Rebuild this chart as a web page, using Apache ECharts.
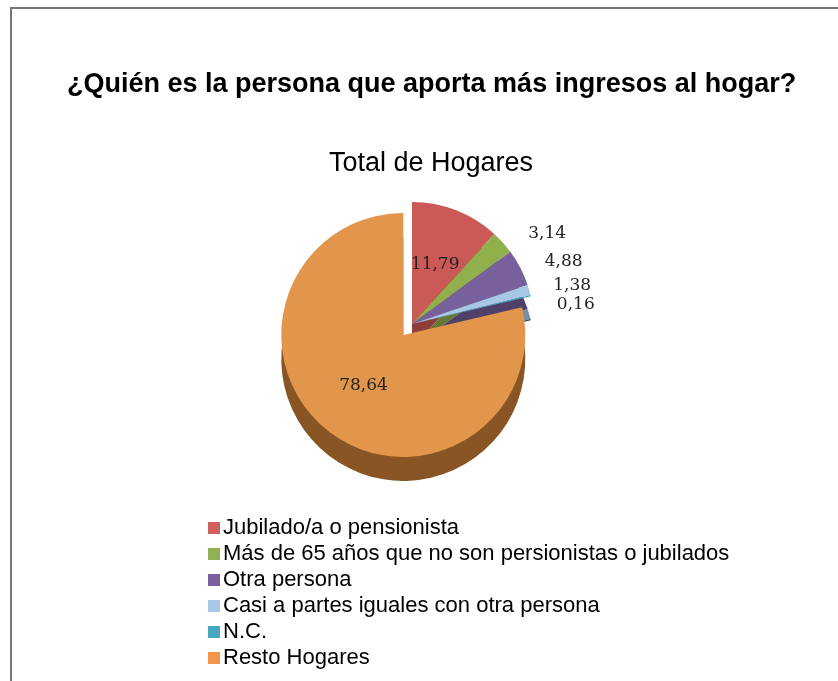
<!DOCTYPE html>
<html>
<head>
<meta charset="utf-8">
<script src="https://cdn.jsdelivr.net/npm/echarts@6/dist/echarts.min.js"></script>
<style>
    html, body { margin: 0; padding: 0; background: #fff; }
    #frame { position: absolute; left: 10px; top: 7px; width: 840px; height: 690px;
             border-top: 2px solid #777; border-left: 2px solid #777; }
    #container { position: absolute; left: 0; top: 0; width: 838px; height: 681px; }
</style>
</head>
<body>
<div id="frame"></div>
<div id="container"></div>
<script>
var categories = [
    'Jubilado/a o pensionista',
    'Más de 65 años que no son persionistas o jubilados',
    'Otra persona',
    'Casi a partes iguales con otra persona',
    'N.C.',
    'Resto Hogares'
];
var values = [11.79, 3.14, 4.88, 1.38, 0.16, 78.64];
var colors = ['#cb5a56', '#8fb04b', '#77609b', '#a8c6e6', '#44a8c1', '#e2964c'];
var sideColors = ['#8e3d3a', '#627a33', '#4f3f69', '#7890aa', '#1e4f5e', '#8a5524'];
var legendColors = ['#d0605e', '#92b152', '#7a5e9e', '#a8c6e6', '#43a8c0', '#f0954a'];

initChart();

function initChart() {
    var dom = document.getElementById('container');
    var myChart = echarts.init(dom, null, { renderer: 'canvas' });

    var top = [], side = [];
    for (var i = 0; i < values.length; i++) {
        var inside = (i == 0 || i == 5);
        top.push({
            name: categories[i],
            value: values[i],
            selected: i == 5,
            itemStyle: { color: colors[i] },
            label: inside ? { position: 'inside' } : {}
        });
        side.push({
            name: categories[i],
            value: values[i],
            selected: i == 5,
            itemStyle: { color: sideColors[i] }
        });
    }

    var option = {
        animation: false,
        title: [{
            text: '¿Quién es la persona que aporta más ingresos al hogar?',
            left: 62,
            top: 66,
            textStyle: { fontFamily: 'Liberation Sans', fontSize: 27, fontWeight: 'bold', color: '#000' }
        }, {
            text: 'Total de Hogares',
            left: 324,
            top: 145,
            textStyle: { fontFamily: 'Liberation Sans', fontSize: 27, fontWeight: 'normal', color: '#000' }
        }],
        legend: {
            orient: 'vertical',
            left: 203,
            top: 512,
            itemWidth: 12,
            itemHeight: 12,
            itemGap: 4,
            icon: 'rect',
            selectedMode: false,
            textStyle: { fontFamily: 'Liberation Sans', fontSize: 22, color: '#000', padding: [0, 0, 0, -2] },
            data: categories.map(function (c, i) {
                return { name: c, itemStyle: { color: legendColors[i] } };
            })
        },
        series: [{
            name: 'side',
            type: 'pie',
            z: 1,
            silent: true,
            center: [412, 348],
            radius: 122,
            startAngle: 90,
            selectedMode: 'multiple',
            selectedOffset: 14,
            label: { show: false },
            labelLine: { show: false },
            data: side
        }, {
            name: 'Total de Hogares',
            type: 'pie',
            z: 2,
            center: [412, 324],
            radius: 122,
            startAngle: 90,
            selectedMode: 'multiple',
            selectedOffset: 14,
            avoidLabelOverlap: true,
            label: {
                show: true,
                position: 'outside',
                fontFamily: 'DejaVu Serif',
                fontSize: 17,
                color: '#222',
                formatter: function (p) { return p.value.toFixed(2).replace('.', ','); }
            },
            labelLine: { show: false, length: 14, length2: 10 },
            data: top
        }]
    };

    myChart.setOption(option);
    window.addEventListener('resize', myChart.resize);
}
</script>
</body>
</html>
